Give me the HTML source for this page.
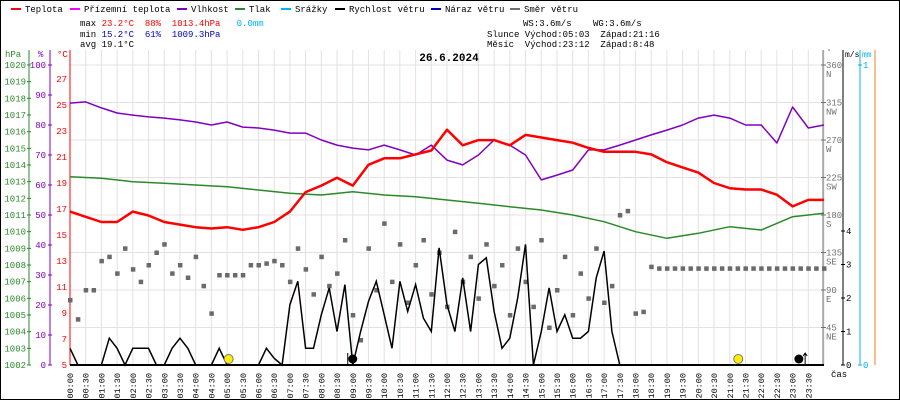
<!DOCTYPE html>
<html><head><meta charset="utf-8"><style>
html,body{margin:0;padding:0;background:#fff}
svg{display:block;font-family:"Liberation Mono",monospace}
svg text{white-space:pre}
</style></head><body>
<svg id="c" width="900" height="400" viewBox="0 0 900 400" xml:space="preserve">
<rect x="0.5" y="0.5" width="899" height="399" fill="#fff" stroke="#000"/>
<g id="grid"></g>
<g id="legend" font-size="9"></g>
<g font-size="9">
<text x="80" y="26">max <tspan fill="#f00">23.2°C</tspan>  <tspan fill="#f00">88%</tspan>  <tspan fill="#f00">1013.4hPa</tspan>   <tspan fill="#00b4f0">0.0mm</tspan></text>
<text x="80" y="37">min <tspan fill="#00c">15.2°C</tspan>  <tspan fill="#00c">61%</tspan>  <tspan fill="#00c">1009.3hPa</tspan></text>
<text x="80" y="47">avg 19.1°C</text>
<text x="523" y="26">WS:3.6m/s</text>
<text x="593" y="26">WG:3.6m/s</text>
<text x="487" y="37">Slunce Východ:05:03  Západ:21:16</text>
<text x="487" y="47">Měsíc  Východ:23:12  Západ:8:48</text>
</g>
<text x="449" y="61" text-anchor="middle" font-size="11" font-weight="bold">26.6.2024</text>
<g id="axes" font-size="9"></g>
<g id="series"></g>
</svg>
<script>
const tempC=[16.8,16.4,16.0,16.0,16.8,16.5,16.0,15.8,15.6,15.5,15.6,15.4,15.6,16.0,16.8,18.3,18.8,19.4,18.8,20.4,20.9,20.9,21.2,21.5,23.1,21.9,22.3,22.3,21.9,22.7,22.5,22.3,22.1,21.7,21.4,21.4,21.4,21.2,20.6,20.2,19.8,19.0,18.6,18.5,18.5,18.1,17.2,17.7,17.7];
const humidity=[87.3,87.7,85.7,84,83.3,82.7,82.3,81.7,81,80,81,79.3,79,78.3,77.3,77.3,75,73.3,72.3,71.7,73.3,71.7,70,73.3,68.3,66.7,70,75,73.3,70,61.7,63.3,65,71.7,71.7,73.3,75,76.7,78.3,80,82.3,83.3,82.3,80,80,74,86,79,80];
const pressure=[1013.3,1013.2,1013.0,1012.9,1012.8,1012.7,1012.5,1012.3,1012.2,1012.4,1012.2,1012.1,1011.9,1011.7,1011.5,1011.3,1011.0,1010.6,1010.0,1009.6,1009.9,1010.3,1010.1,1010.9,1011.1];
const windSpeed=[0.5,0,0,0,0,0.8,0.5,0,0.5,0.5,0.5,0,0,0.5,0.8,0.5,0,0,0,0.5,0,0,0,0,0,0.5,0.2,0,1.8,2.5,0.5,0.5,1.5,2.3,1.0,2.4,0,1.0,1.9,2.5,1.5,0.5,2.5,1.6,2.4,1.4,1.0,3.5,1.8,1.0,2.6,1.0,3.0,3.2,1.6,0.5,0.8,2.0,3.6,0,1.0,2.3,1.0,1.5,0.8,0.8,1.0,2.6,3.4,1.0,0,0,0,0,0,0,0,0,0,0,0,0,0,0,0,0,0,0,0,0,0,0,0,0,0,0,0];
const windDir=[78,55,90,90,125,130,110,140,115,100,120,135,145,110,120,105,130,95,62,108,108,108,108,120,120,122,125,120,100,140,115,85,130,95,110,150,60,30,140,90,170,100,145,75,120,150,85,135,70,160,100,130,80,145,95,120,60,140,100,70,150,45,90,130,60,110,80,140,75,95,180,185,62,64,118,116,116,116,116,116,116,116,116,116,116,116,116,116,116,116,116,116,116,116,116,116,116];
const rain=[0,0,0,0,0,0,0,0,0,0,0,0,0,0,0,0,0,0,0,0,0,0,0,0,0];
const hpaTicks=[1002,1003,1004,1005,1006,1007,1008,1009,1010,1011,1012,1013,1014,1015,1016,1017,1018,1019,1020];
const pctTicks=[0,10,20,30,40,50,60,70,80,90,100];
const tTicks=[5,7,9,11,13,15,17,19,21,23,25,27];
const dirTicks=[45,90,135,180,225,270,315,360];
const dirNames=["NE","E","SE","S","SW","W","NW","N"];
const msTicks=[0,1,2,3,4];
const sunEvents=[5.05,21.27];
const moonEvents=[9.0,23.2];

const NS="http://www.w3.org/2000/svg";
const X0=70,X1=824,Y0=365;
const xH=h=>X0+h/24*(X1-X0);
const yT=v=>Y0-(v-5)*13;
const yP=v=>Y0-v*3;
const yH=v=>Y0-(v-1002)*300/18;
const yD=v=>Y0-v*300/360;
const yW=v=>Y0-v*33.5;
const yR=v=>Y0-v*300;
function mk(tag,attrs,parent,txt){const e=document.createElementNS(NS,tag);for(const k in attrs)e.setAttribute(k,attrs[k]);if(txt!==undefined)e.textContent=txt;parent.appendChild(e);return e;}
const grid=document.getElementById('grid'),axes=document.getElementById('axes'),ser=document.getElementById('series'),leg=document.getElementById('legend');
for(let i=0;i<=48;i++){const x=xH(i/2);const l=mk('line',{x1:x,y1:50,x2:x,y2:Y0,stroke:'#e6e0e0'},grid);

}
for(const d of dirTicks){const y=yD(d);const l=mk('line',{x1:X0,y1:y,x2:X1,y2:y,stroke:'#e6e0e0'},grid);

}
const legItems=[["Teplota","#f00",11],["Přízemní teplota","#f0f",70],["Vlhkost","#8000c0",177],["Tlak","#2a8a2a",235],["Srážky","#00b4f0",281],["Rychlost větru","#000",335],["Náraz větru","#00c",431],["Směr větru","#707070",510]];
for(const it of legItems){const g=mk('g',{},leg);


mk('rect',{x:it[2],y:8,width:10,height:2,fill:it[1]},g);mk('text',{x:it[2]+14,y:12},g,it[0]);}
mk('line',{x1:29,y1:50,x2:29,y2:Y0,stroke:'#2a8a2a'},axes);
mk('line',{x1:50,y1:50,x2:50,y2:Y0,stroke:'#8000c0'},axes);
mk('line',{x1:70,y1:50,x2:70,y2:Y0,stroke:'#f00'},axes);
mk('text',{x:5,y:57,fill:'#2a8a2a'},axes,'hPa');
mk('text',{x:38,y:57,fill:'#8000c0'},axes,'%');
mk('text',{x:57,y:57,fill:'#f00'},axes,'°C');
for(const v of hpaTicks){const t=mk('text',{x:26,y:yH(v)+3,'text-anchor':'end',fill:'#2a8a2a'},axes,String(v));


mk('line',{x1:27,x2:31,y1:yH(v),y2:yH(v),stroke:'#2a8a2a'},axes);}
for(const v of pctTicks){const t=mk('text',{x:46,y:yP(v)+3,'text-anchor':'end',fill:'#8000c0'},axes,String(v));


mk('line',{x1:48,x2:52,y1:yP(v),y2:yP(v),stroke:'#8000c0'},axes);}
for(const v of tTicks){const t=mk('text',{x:67,y:yT(v)+3,'text-anchor':'end',fill:'#f00'},axes,String(v));

}
mk('line',{x1:823,y1:50,x2:823,y2:Y0,stroke:'#707070'},axes);
mk('line',{x1:843,y1:50,x2:843,y2:Y0,stroke:'#000'},axes);
mk('line',{x1:860,y1:50,x2:860,y2:Y0,stroke:'#00b4f0'},axes);
mk('line',{x1:875,y1:50,x2:875,y2:Y0,stroke:'#f08020'},axes);
mk('text',{x:827,y:54,fill:'#707070','font-size':7},axes,'°');
mk('text',{x:845,y:57,'font-size':8},axes,'m/s');
mk('text',{x:862,y:57,fill:'#00b4f0','font-size':8},axes,'mm');
dirTicks.forEach((d,i)=>{const y=yD(d);const t=mk('text',{x:826,y:y+3,fill:'#707070'},axes,String(d));


mk('text',{x:826,y:y+12,fill:'#707070'},axes,dirNames[i]);
mk('line',{x1:821,x2:826,y1:y,y2:y,stroke:'#707070'},axes);});
for(const v of msTicks){const y=yW(v);mk('line',{x1:841,x2:845,y1:y,y2:y,stroke:'#000'},axes);const t=mk('text',{x:846,y:y+3},axes,String(v));

}
[0,1].forEach(v=>{const y=yR(v);mk('line',{x1:858,x2:862,y1:y,y2:y,stroke:'#00b4f0'},axes);mk('text',{x:863,y:y+3,fill:'#00b4f0'},axes,String(v));});
for(let i=0;i<48;i++){const h=Math.floor(i/2),m=i%2?'30':'00';const x=xH(i/2);
const t=mk('text',{x:0,y:0,transform:`translate(${x+3},373) rotate(-90)`,'text-anchor':'end','font-size':8.5},axes,(h<10?'0':'')+h+':'+m);

}
mk('text',{x:831,y:377},axes,'čas');
function line(arr,step,yf,color,w,name){const pts=arr.map((v,i)=>xH(i*step).toFixed(1)+','+yf(v).toFixed(1)).join(' ');const p=mk('polyline',{points:pts,fill:'none',stroke:color,'stroke-width':w,'stroke-linejoin':'round'},ser);

}
windDir.forEach((d,i)=>{if(d==null)return;const r=mk('rect',{x:xH(i*0.25)-2,y:yD(d)-2,width:4.5,height:4.5,fill:'#6a6a6a'},ser);

});
line(pressure,1,yH,'#2a8a2a',1.5,'pressure-line');
line(humidity,0.5,yP,'#8000c0',1.5,'humidity-line');
line(tempC,0.5,yT,'#f00',2.5,'temperature-line');
{let pts=[];windSpeed.forEach((v,i)=>{pts.push(xH(i*0.25).toFixed(1)+','+yW(v).toFixed(1));});const p=mk('polyline',{points:pts.join(' '),fill:'none',stroke:'#000','stroke-width':1.5},ser);

}
line(rain,1,yR,'#00b4f0',2,'precipitation-line');
mk('line',{x1:X0,x2:X1,y1:Y0,y2:Y0,stroke:'#000','stroke-width':2},ser);
sunEvents.forEach(h=>{const c=mk('circle',{cx:xH(h),cy:359,r:4.5,fill:'#ffee00',stroke:'#777'},ser);

});
moonEvents.forEach(h=>{const c=mk('circle',{cx:xH(h),cy:359,r:4.5,fill:'#000'},ser);

});
mk('path',{d:`M${xH(23.4)} 365 V353 M${xH(23.4)-2} 356 L${xH(23.4)} 353 L${xH(23.4)+2} 356`,stroke:'#000',fill:'none'},ser);
mk('path',{d:`M${xH(9.0)-5} 365 V353`,stroke:'#000',fill:'none'},ser);
</script>
</body></html>
